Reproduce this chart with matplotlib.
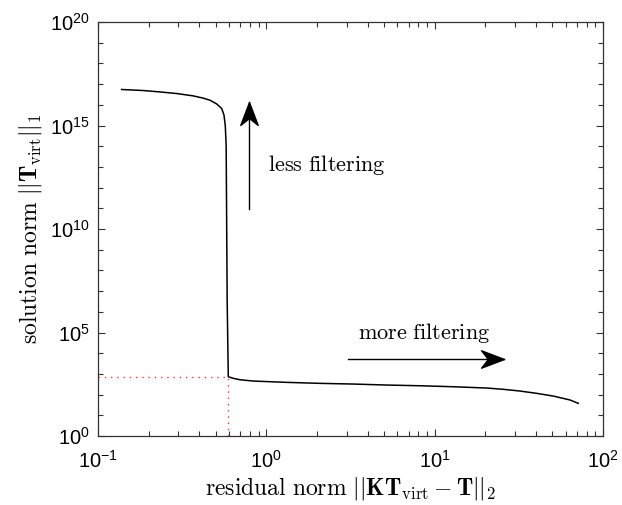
"""L-curve of the virtual-source reconstruction (log-log)."""

import matplotlib
matplotlib.use("Agg")
import matplotlib.pyplot as plt
import numpy as np
from matplotlib.markers import MarkerStyle
from matplotlib.path import Path
from matplotlib.ticker import FixedLocator, NullFormatter, LogLocator

plt.rcParams["font.family"] = ["Liberation Sans", "DejaVu Sans"]
plt.rcParams["mathtext.fontset"] = "cm"

# L-curve samples: residual norm vs solution norm
residual_norm = [0.138, 0.186, 0.233, 0.294, 0.368, 0.422, 0.463, 0.507,
                 0.543, 0.560, 0.570, 0.577, 0.585, 0.594, 0.637, 0.698,
                 0.837, 1.32, 2.08, 3.29, 5.19, 8.18, 12.9, 20.4, 25.6,
                 32.1, 40.4, 50.7, 63.7, 71.3]
solution_norm = [5.5e16, 4.9e16, 4.2e16, 3.5e16, 2.7e16, 2.1e16, 1.66e16, 1.1e16,
                 6.6e15, 3.2e15, 1.0e15, 1.1e14, 3.7e6, 730, 610, 522,
                 452, 391, 350, 324, 290, 268, 240, 208, 180,
                 149, 115, 85, 55, 38]

# chosen corner of the curve
corner_residual = 0.594
corner_solution = 730

x_limits = [0.1, 100]
y_limits = [1, 1e20]
y_major = [1e0, 1e5, 1e10, 1e15, 1e20]
y_minor = [10.0 ** k for k in range(21) if k % 5]

# arrow annotations: (tail, head) in data coordinates
less_arrow = [(0.79, 9e10), (0.79, 1.4e16)]
more_arrow = [(3.04, 5.2e3), (25.8, 5.2e3)]

fig = plt.figure(figsize=(6.22, 5.05), dpi=100)
ax = fig.add_axes([0.1576, 0.1366, 0.8119, 0.8198])

ax.plot(residual_norm, solution_norm, color="black", linewidth=1.1)
ax.plot([x_limits[0], corner_residual], [corner_solution, corner_solution],
        color="red", linestyle=(0, (1, 3.5)), linewidth=1.0, alpha=0.8)
ax.plot([corner_residual, corner_residual], [y_limits[0], corner_solution],
        color="red", linestyle=(0, (1, 3.5)), linewidth=1.0, alpha=0.8)

ax.set_xscale("log")
ax.set_yscale("log")
ax.set_xlim(x_limits)
ax.set_ylim(y_limits)

ax.xaxis.set_major_locator(LogLocator(base=10, numticks=10))
ax.xaxis.set_minor_locator(LogLocator(base=10, subs=np.arange(2, 10), numticks=10))
ax.xaxis.set_minor_formatter(NullFormatter())
ax.yaxis.set_major_locator(FixedLocator(y_major))
ax.yaxis.set_minor_locator(FixedLocator(y_minor))
ax.yaxis.set_minor_formatter(NullFormatter())

ax.tick_params(which="both", direction="in", top=True, right=True,
               color="#333333", labelsize=14.5)
ax.tick_params(which="major", length=5, width=0.8)
ax.tick_params(which="minor", length=3.5, width=0.8)
ax.tick_params(axis="x", which="major", pad=10)
ax.tick_params(axis="y", which="major", pad=6)
for spine in ax.spines.values():
    spine.set_color("#333333")
    spine.set_linewidth(0.9)

ax.set_xlabel(r"$\mathrm{residual\ norm}\ ||\mathbf{KT}_{\mathrm{virt}}-\mathbf{T}||_2$",
              fontsize=17, labelpad=2)
ax.set_ylabel(r"$\mathrm{solution\ norm}\ ||\mathbf{T}_{\mathrm{virt}}||_1$",
              fontsize=17, labelpad=4)

# notched arrow head, tip at the origin pointing up
head_path = Path([(0, 0), (-0.38, -1.0), (0, -0.7), (0.38, -1.0), (0, 0)],
                 [Path.MOVETO, Path.LINETO, Path.LINETO, Path.LINETO, Path.CLOSEPOLY])


def draw_arrow(ax, tail, head, angle):
    ax.plot([tail[0], head[0]], [tail[1], head[1]], color="black", linewidth=1.0)
    marker = MarkerStyle(head_path, transform=matplotlib.transforms.Affine2D().rotate_deg(angle))
    ax.plot([head[0]], [head[1]], marker=marker, markersize=33,
            color="black", linestyle="none")


draw_arrow(ax, less_arrow[0], less_arrow[1], 0)
draw_arrow(ax, more_arrow[0], more_arrow[1], -90)

ax.text(1.02, 1.2e13, r"$\mathrm{less\ filtering}$", fontsize=16,
        ha="left", va="center")
ax.text(3.5, 9e4, r"$\mathrm{more\ filtering}$", fontsize=16,
        ha="left", va="center")

fig.savefig("out.png", dpi=100)
plt.close(fig)
